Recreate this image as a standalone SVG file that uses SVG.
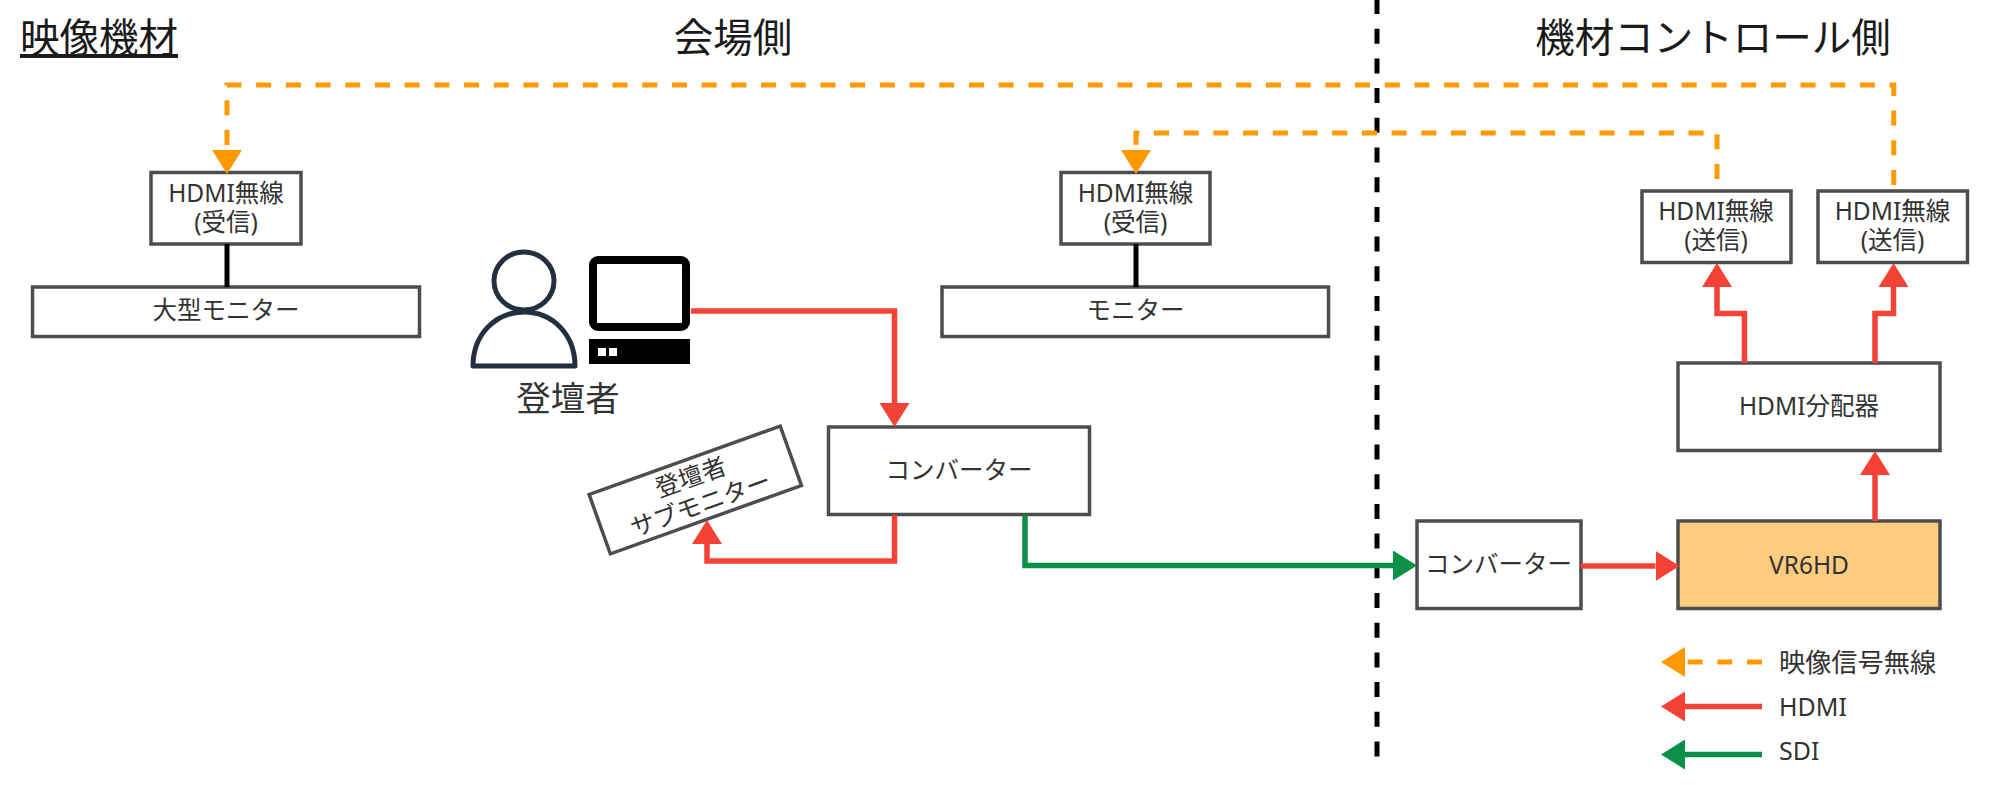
<svg xmlns="http://www.w3.org/2000/svg" width="2000" height="785" viewBox="0 0 2000 785">
<style>
text{font-family:"Noto Sans","Noto Sans CJK JP",sans-serif;font-size:24.5px;fill:#333;text-anchor:middle}
.h{font-size:39.5px;fill:#1a1a1a}
.b{fill:#fff;stroke:#4d4d4d;stroke-width:3.5}
.c{fill:none;stroke-width:5.5}
.o{stroke:#f90;stroke-width:5;stroke-dasharray:15 14.7}
.r{stroke:#f44336}
.g{stroke:#0c9048}
.ln{fill:none;stroke:#000;stroke-width:5}
.l{text-anchor:start}
</style>
<defs>
<marker id="ao" markerUnits="userSpaceOnUse" markerWidth="24" markerHeight="30" refX="0" refY="15" orient="auto"><path d="M0 0L24 15L0 30Z" fill="#f90"/></marker>
<marker id="ar" markerUnits="userSpaceOnUse" markerWidth="24" markerHeight="30" refX="0" refY="15" orient="auto"><path d="M0 0L24 15L0 30Z" fill="#f44336"/></marker>
<marker id="ag" markerUnits="userSpaceOnUse" markerWidth="24" markerHeight="30" refX="0" refY="15" orient="auto"><path d="M0 0L24 15L0 30Z" fill="#0c9048"/></marker>
</defs>
<rect width="2000" height="785" fill="#fff"/>
<g id="headings">
<text class="h" x="99" y="52" text-decoration="underline">映像機材</text>
<text class="h" x="733" y="52">会場側</text>
<text class="h" x="1713" y="52">機材コントロール側</text>
</g>
<g id="divider"><path d="M1377-1V757" fill="none" stroke="#000" stroke-width="5" stroke-dasharray="15 14.7"/></g>
<g id="rx-large"><rect class="b" x="151" y="172.5" width="150" height="71.5"/><text x="226" y="202">HDMI無線</text><text x="226" y="231">(受信)</text></g>
<g id="monitor-large"><rect class="b" x="32.5" y="287" width="387" height="49.5"/><text x="226" y="319">大型モニター</text></g>
<g id="rx-mid"><rect class="b" x="1061" y="172.5" width="149" height="71.5"/><text x="1135.5" y="202">HDMI無線</text><text x="1135.5" y="231">(受信)</text></g>
<g id="monitor-mid"><rect class="b" x="942" y="287" width="386.5" height="49.5"/><text x="1135.5" y="319">モニター</text></g>
<g id="tx-1"><rect class="b" x="1642" y="191" width="149" height="71.5"/><text x="1716" y="220">HDMI無線</text><text x="1716" y="249">(送信)</text></g>
<g id="tx-2"><rect class="b" x="1818" y="191" width="149.5" height="71.5"/><text x="1892.5" y="220">HDMI無線</text><text x="1892.5" y="249">(送信)</text></g>
<g id="splitter"><rect class="b" x="1678" y="363" width="262" height="87.5"/><text x="1809" y="415">HDMI分配器</text></g>
<g id="vr6hd"><rect class="b" x="1678" y="521" width="262" height="87.5" style="fill:#ffcc80"/><text x="1809" y="574">VR6HD</text></g>
<g id="converter-2"><rect class="b" x="1417" y="521" width="164" height="87.5"/><text x="1498.5" y="573">コンバーター</text></g>
<g id="converter-1"><rect class="b" x="828.5" y="427" width="261" height="87.5"/><text x="959" y="479">コンバーター</text></g>
<g id="sub-monitor" transform="rotate(-19.7 695.3 490)"><rect class="b" x="593.8" y="458.5" width="203" height="63"/><text x="695.3" y="485">登壇者</text><text x="695.3" y="514">サブモニター</text></g>
<g id="person" fill="#fff" stroke="#232f3e" stroke-width="5" stroke-linejoin="round">
<ellipse cx="524" cy="281" rx="30" ry="29"/>
<path d="M473 366C473 335 495 312 524 312C553 312 575 335 575 366Z"/>
<text x="568" y="411" style="font-size:34.5px;stroke:none">登壇者</text>
</g>
<g id="computer">
<rect x="593" y="260" width="93" height="67" rx="5" fill="#fff" stroke="#000" stroke-width="8"/>
<rect x="589" y="339" width="101" height="25" fill="#000"/>
<rect x="598" y="348" width="8" height="8" fill="#fff"/><rect x="609" y="348" width="8" height="8" fill="#fff"/>
</g>
<g id="connectors">
<path class="ln" d="M227 244V287"/>
<path class="ln" d="M1136 244V287"/>
<path class="c o" d="M1893.75 185V85H227V150" marker-end="url(#ao)"/>
<path class="c o" d="M1717 179V133H1136V150" marker-end="url(#ao)"/>
<path class="c r" d="M691 311H894.5V403" marker-end="url(#ar)"/>
<path class="c r" d="M894.5 515V561H707V544" marker-end="url(#ar)"/>
<path class="c g" d="M1025 515V565.5H1393" marker-end="url(#ag)"/>
<path class="c r" d="M1581 566H1655.5" marker-end="url(#ar)"/>
<path class="c r" d="M1875 521V475" marker-end="url(#ar)"/>
<path class="c r" d="M1744.5 363V313.5H1717V287" marker-end="url(#ar)"/>
<path class="c r" d="M1875 363V313.5H1893.5V287" marker-end="url(#ar)"/>
</g>
<g id="legend">
<path class="c o" d="M1762 662H1685" marker-end="url(#ao)"/>
<path class="c r" d="M1762 706.5H1685" marker-end="url(#ar)"/>
<path class="c g" d="M1762 754.5H1685" marker-end="url(#ag)"/>
<text class="l" x="1779" y="672" style="font-size:26.2px">映像信号無線</text>
<text class="l" x="1779" y="716" style="font-size:25px">HDMI</text>
<text class="l" x="1779" y="760" style="font-size:25px">SDI</text>
</g>
</svg>
